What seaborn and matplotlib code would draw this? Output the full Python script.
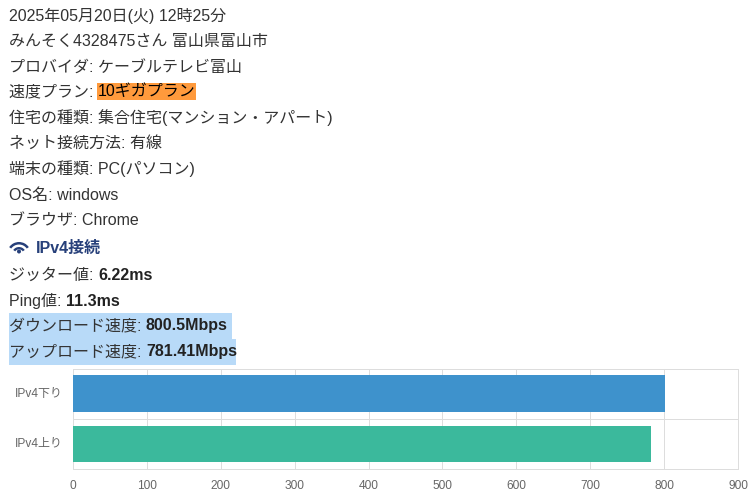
import matplotlib
matplotlib.use("Agg")
import matplotlib.pyplot as plt
from matplotlib.patches import Rectangle, Wedge, Circle
import pandas as pd
import seaborn as sns

categories = ["IPv4下り", "IPv4上り"]
speeds = [800.5, 781.41]
bar_colors = ["#3e92cc", "#3bb99c"]
x_ticks = [0, 100, 200, 300, 400, 500, 600, 700, 800, 900]

FONT = ["Liberation Sans", "Noto Sans CJK JP", "DejaVu Sans"]
TXT = "#333333"
GRID = "#dddddd"
W, H = 754, 497

# (baseline px, [(text, bold)])
rows = [
    (21, [("2025年05月20日(火) 12時25分", False)]),
    (46, [("みんそく4328475さん 富山県富山市", False)]),
    (73, [("プロバイダ: ケーブルテレビ富山", False)]),
    (96, [("速度プラン: ", False), ("10ギガプラン", "mark")]),
    (123, [("住宅の種類: 集合住宅(マンション・アパート)", False)]),
    (148, [("ネット接続方法: 有線", False)]),
    (174, [("端末の種類: PC(パソコン)", False)]),
    (200, [("OS名: windows", False)]),
    (225, [("ブラウザ: Chrome", False)]),
    (280, [("ジッター値: ", False), ("6.22ms", True)]),
    (306, [("Ping値: ", False), ("11.3ms", True)]),
    (330, [("ダウンロード速度: ", False), ("800.5Mbps", True)]),
    (356, [("アップロード速度: ", False), ("781.41Mbps", True)]),
]

sns.set_theme(style="white")
plt.rcParams["font.family"] = FONT

fig = plt.figure(figsize=(W / 100, H / 100), dpi=100, facecolor="white")

# full-figure pixel layer for the page text
page = fig.add_axes([0, 0, 1, 1], zorder=0)
page.set_xlim(0, W)
page.set_ylim(H, 0)
page.axis("off")

page.add_patch(Rectangle((9, 313), 223, 26, fc="#b8daf8", ec="none"))
page.add_patch(Rectangle((9, 339), 227, 26, fc="#b8daf8", ec="none"))

renderer = fig.canvas.get_renderer()
for base, segs in rows:
    x = 9.0
    for s, style in segs:
        color = "#000000" if style == "mark" else ("#222222" if style else TXT)
        t = page.text(x, base, s, fontsize=11.5, color=color,
                      fontweight="bold" if style is True else "normal",
                      va="baseline", ha="left", zorder=3)
        width = t.get_window_extent(renderer).width
        if style == "mark":
            page.add_patch(Rectangle((x - 1, 83), width + 1.5, 17, fc="#ff9a3c", ec="none", zorder=2))
        x += width

page.text(36, 253, "IPv4接続", fontsize=11.5, fontweight="bold", color="#27407a",
          va="baseline", ha="left")
# wifi icon
ic = "#27407a"
page.add_patch(Circle((19, 251.5), 2, fc=ic, ec="none"))
for r0, r1 in [(4.6, 7.0), (9.5, 12.0)]:
    page.add_patch(Wedge((19, 254), r1, 215, 325, width=r1 - r0, fc=ic, ec="none"))

# chart
ax = fig.add_axes([72.7 / W, 1 - 469 / H, (738.3 - 72.7) / W, (469 - 368.5) / H], zorder=1)
ax.patch.set_alpha(0)
df = pd.DataFrame({"category": categories, "speed": speeds})
sns.barplot(data=df, x="speed", y="category", hue="category", palette=bar_colors,
            width=0.73, legend=False, ax=ax, saturation=1, zorder=3, linewidth=0)
ax.set_xlim(0, 900)
ax.set_ylim(1.5, -0.5)
ax.set_xlabel("")
ax.set_ylabel("")
ax.set_xticks(x_ticks)
ax.set_yticks([-0.5, 0.5, 1.5], minor=False)
ax.set_yticklabels([])
ax.grid(True, axis="both", color=GRID, lw=0.72)
ax.set_axisbelow(True)
ax.tick_params(axis="x", length=4.3, color=GRID, width=0.72, labelsize=8.6, labelcolor="#666666", pad=3.5)
ax.tick_params(axis="y", length=7.5, color=GRID, width=0.72, pad=0)
for sp in ax.spines.values():
    sp.set_visible(True)
    sp.set_color(GRID)
    sp.set_linewidth(0.72)
for i, c in enumerate(categories):
    ax.annotate(c, xy=(0, i), xycoords=("axes fraction", "data"), xytext=(-7.5, 0),
                textcoords="offset points", ha="right", va="center",
                fontsize=8.6, color="#666666")

fig.savefig("out.png", dpi=100)
